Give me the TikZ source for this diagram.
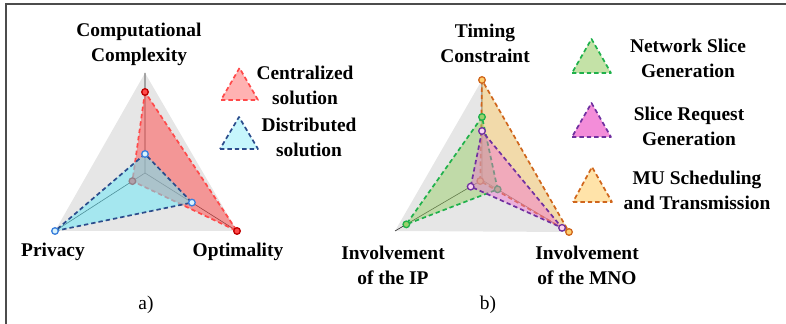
\documentclass[tikz,border=0pt]{standalone}
\usepackage{fontspec}
\setmainfont{Liberation Serif}
\usetikzlibrary{calc}

\definecolor{cenline}{HTML}{FF4A4A}
\definecolor{cenfill}{HTML}{FF5555}
\definecolor{cenmark}{HTML}{C00000}
\definecolor{disline}{HTML}{2B4C8C}
\definecolor{disfill}{HTML}{70E8F8}
\definecolor{dismark}{HTML}{3A7FDC}
\definecolor{nsgline}{HTML}{1FB14B}
\definecolor{nsgfill}{HTML}{9CCF6C}
\definecolor{srgline}{HTML}{7030A0}
\definecolor{srgfill}{HTML}{F070D0}
\definecolor{muline}{HTML}{D0661C}
\definecolor{mufill}{HTML}{FFD070}
\definecolor{gridgray}{HTML}{E6E6E6}

\tikzset{
  lbl/.style={font=\bfseries\fontsize{9.7}{12.6}\selectfont, align=center, inner sep=0pt},
  sub/.style={font=\fontsize{9.7}{12.6}\selectfont, inner sep=0pt},
  axis/.style={line width=0.3pt, black!85},
  series/.style={line width=0.85pt, dash pattern=on 2.2pt off 1.5pt, line join=round},
  marker/.style={line width=0.65pt},
}

\begin{document}
\begin{tikzpicture}[x=0.5pt,y=-0.5pt]
  \useasboundingbox (0,0) rectangle (786,324);
  \draw[line width=0.6pt, black!70] (786,4) -- (6,4) -- (6,324);

  % ---- a) ----
  \coordinate (Oa) at (145,173);
  \coordinate (Ta) at (145,73);
  \coordinate (La) at (55,231);
  \coordinate (Ra) at (237,231);
  \fill[gridgray] (Ta) -- (La) -- (Ra) -- cycle;
  \draw[axis] (Oa) -- (Ta) (Oa) -- (La) (Oa) -- (Ra);

  \coordinate (c1) at ($(Oa)!0.81!(Ta)$);
  \coordinate (c2) at ($(Oa)!0.14!(La)$);
  \coordinate (c3) at (Ra);
  \filldraw[series, draw=cenline, fill=cenfill, fill opacity=0.55] (c1) -- (c2) -- (c3) -- cycle;
  \foreach \p in {c1,c2,c3}
    \filldraw[marker, draw=cenmark, fill=cenline] (\p) circle (3.3);

  \coordinate (d1) at ($(Oa)!0.19!(Ta)$);
  \coordinate (d2) at (La);
  \coordinate (d3) at ($(Oa)!0.51!(Ra)$);
  \filldraw[series, draw=disline, fill=disfill, fill opacity=0.55] (d1) -- (d2) -- (d3) -- cycle;
  \foreach \p in {d1,d2,d3}
    \filldraw[marker, draw=dismark, fill=cyan!15] (\p) circle (3.3);

  \node[lbl] (cc) at (139,44) {Computational\\Complexity};
  \node[lbl] (priv) at (53,252) {Privacy};
  \node[lbl] (opt) at (238,252) {Optimality};
  \node[sub] (suba) at (146,305) {a)};

  % legend a
  \filldraw[series, draw=cenline, fill=cenfill!45] (221,100) -- (258,100) -- (239.5,68) -- cycle;
  \node[lbl] (cen) at (305,85) {Centralized\\solution};
  \filldraw[series, draw=disline, fill=disfill!40] (220,149) -- (258,149) -- (239,117) -- cycle;
  \node[lbl] (dis) at (309,137) {Distributed\\solution};

  % ---- b) ----
  \coordinate (Ob) at (482,180);
  \coordinate (Tb) at (482,80);
  \coordinate (Lb) at (395,231);
  \coordinate (Rb) at (569,232);
  \fill[gridgray] (Tb) -- (Lb) -- (Rb) -- cycle;
  \draw[axis] (Ob) -- (Tb) (Ob) -- (Lb) (Ob) -- (Rb);

  \coordinate (m1) at (Tb);
  \coordinate (m2) at ($(Ob)!0.02!(Lb)$);
  \coordinate (m3) at (Rb);
  \filldraw[series, draw=muline, fill=mufill, fill opacity=0.5] (m1) -- (m2) -- (m3) -- cycle;
  \foreach \p in {m1,m2,m3}
    \filldraw[marker, draw=muline, fill=mufill] (\p) circle (3.3);

  \coordinate (n1) at ($(Ob)!0.63!(Tb)$);
  \coordinate (n2) at ($(Ob)!0.87!(Lb)$);
  \coordinate (n3) at ($(Ob)!0.18!(Rb)$);
  \filldraw[series, draw=nsgline, fill=nsgfill, fill opacity=0.5] (n1) -- (n2) -- (n3) -- cycle;
  \foreach \p in {n1,n2,n3}
    \filldraw[marker, draw=nsgline, fill=nsgfill] (\p) circle (3.3);

  \coordinate (s1) at ($(Ob)!0.49!(Tb)$);
  \coordinate (s2) at ($(Ob)!0.13!(Lb)$);
  \coordinate (s3) at ($(Ob)!0.92!(Rb)$);
  \filldraw[series, draw=srgline, fill=srgfill, fill opacity=0.45] (s1) -- (s2) -- (s3) -- cycle;
  \foreach \p in {s1,s2,s3}
    \filldraw[marker, draw=srgline, fill=srgfill!30] (\p) circle (3.3);

  \node[lbl] (tc) at (485,43) {Timing\\Constraint};
  \node[lbl] (ip) at (393,265) {Involvement\\of the IP};
  \node[lbl] (mno) at (587,265) {Involvement\\of the MNO};
  \node[sub] (subb) at (488,305) {b)};

  % legend b
  \filldraw[series, draw=nsgline, fill=nsgfill!60] (572,73) -- (611,73) -- (591.5,39) -- cycle;
  \node[lbl] (nsg) at (688,58) {Network Slice\\Generation};
  \filldraw[series, draw=srgline, fill=srgfill!80] (572,137) -- (611,137) -- (591.5,103) -- cycle;
  \node[lbl] (srg) at (689,126) {Slice Request\\Generation};
  \filldraw[series, draw=muline, fill=mufill!60] (573,202) -- (612,202) -- (592,167) -- cycle;
  \node[lbl] (mus) at (697,190) {MU Scheduling\\and Transmission};
\end{tikzpicture}
\end{document}
